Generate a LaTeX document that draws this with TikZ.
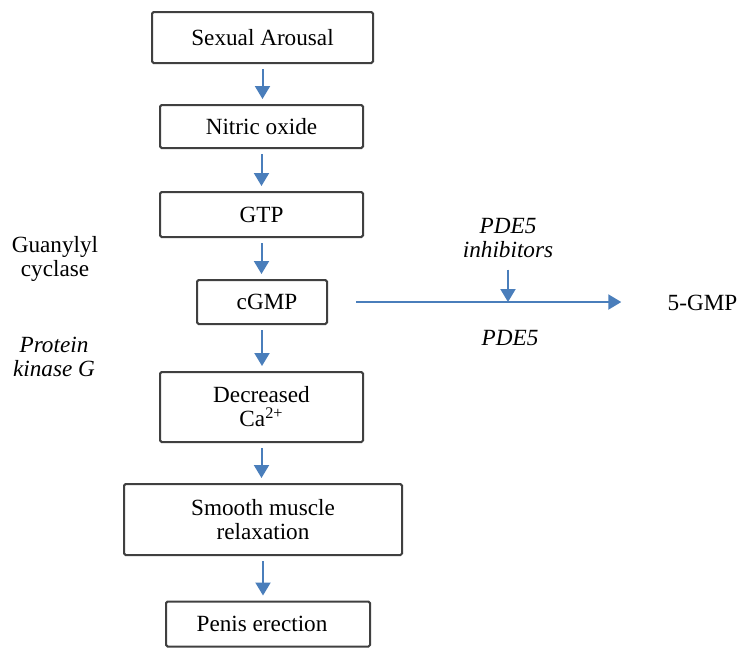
\documentclass[tikz,border=0pt]{standalone}
\usepackage{fontspec}
\setmainfont{Liberation Serif}
\usetikzlibrary{arrows.meta,positioning}
\definecolor{flowblue}{RGB}{74,126,187}
\tikzset{
  stage/.style={draw=black!75,line width=1pt,rounded corners=0.8pt,align=center,inner sep=0pt},
  flow/.style={draw=flowblue,line width=1pt,-{Triangle[length=6.5pt,width=7.5pt]}},
  sidetext/.style={align=center,inner sep=0pt}
}

\begin{document}
\begin{tikzpicture}[x=0.5pt,y=-0.5pt,font=\fontsize{11.6}{12}\selectfont]
  \useasboundingbox (0,0) rectangle (743,648);
  % main chain
  \node[stage,minimum width=110.5pt,minimum height=25.5pt] (arousal) at (262.5,37.5) {Sexual Arousal};
  \node[stage,minimum width=101.5pt,minimum height=21.5pt] (nitric) at (261.5,126.5) {Nitric oxide};
  \node[stage,minimum width=101.5pt,minimum height=22.5pt] (gtp) at (261.5,214.5) {GTP};
  \node[stage,minimum width=65pt,minimum height=22pt] (cgmp) at (262,302) {\hspace{5pt}cGMP};
  \node[stage,minimum width=101.5pt,minimum height=35pt] (calcium) at (261.5,407) {Decreased\\Ca\textsuperscript{2+}};
  \node[stage,minimum width=139pt,minimum height=35.5pt] (relax) at (263,519.5) {Smooth muscle\\relaxation};
  \node[stage,minimum width=102pt,minimum height=22.5pt] (erection) at (268,624) {Penis erection\hspace{6pt}};
  \foreach \a/\b in {arousal/nitric,nitric/gtp,gtp/cgmp,cgmp/calcium,calcium/relax,relax/erection}
    \draw[flow,shorten <=2.5pt,shorten >=2.5pt] (\a.south) -- (\a.south |- \b.north);
  % enzymes
  \node[sidetext] (cyclase) at (55,259) {Guanylyl\\cyclase};
  \node[sidetext,font=\fontsize{11.6}{12}\selectfont\itshape] (kinase) at (54,357) {Protein\\kinase G};
  % PDE5 branch
  \node[sidetext] (gmp) at (702.5,303) {5-GMP};
  \node[sidetext,font=\fontsize{11.6}{12.4}\selectfont\itshape] (inhib) at (508,238) {PDE5\\inhibitors};
  \node[sidetext,font=\fontsize{11.6}{12}\selectfont\itshape] (pde) at (510,338) {PDE5};
  \draw[flow,shorten <=14pt,shorten >=23pt] (cgmp.east) -- (cgmp.east -| gmp.west);
  \draw[flow,shorten <=5.5pt] (inhib.south) -- (inhib.south |- cgmp.east);
\end{tikzpicture}
\end{document}
